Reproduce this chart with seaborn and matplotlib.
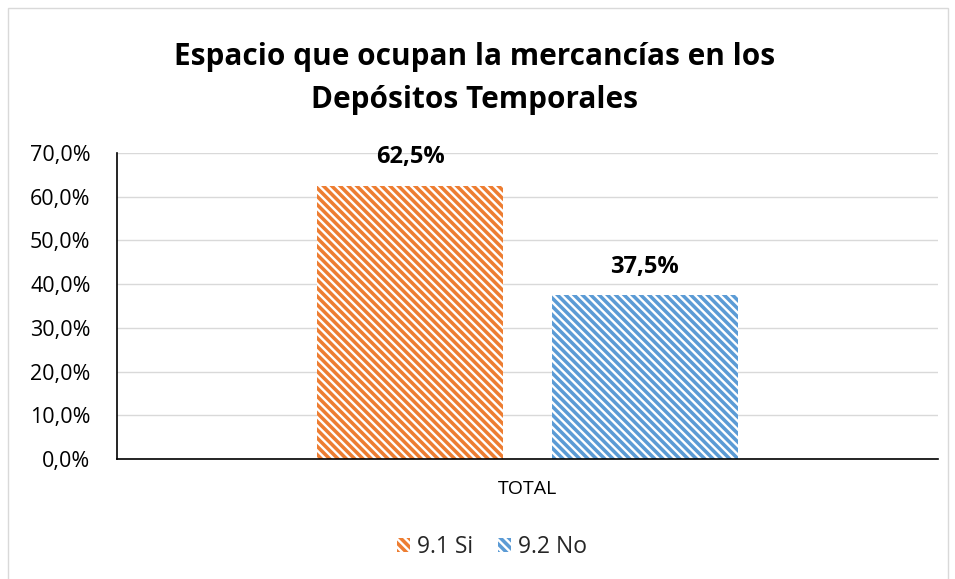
import matplotlib
matplotlib.use("Agg")
import matplotlib.pyplot as plt
import seaborn as sns
import pandas as pd
from matplotlib.patches import Patch, Rectangle
from matplotlib.ticker import FuncFormatter

categories = ["TOTAL"]
series = ["9.1 Si", "9.2 No"]
values = [0.625, 0.375]
colors = ["#ED7D31", "#5B9BD5"]
title_lines = ["Espacio que ocupan la mercancías en los", "Depósitos Temporales"]

sns.set_theme(style="white")
plt.rcParams["font.family"] = ["Open Sans", "DejaVu Sans"]
plt.rcParams["hatch.linewidth"] = 1.7
HATCH = "\\\\\\\\"

df = pd.DataFrame({"cat": categories * len(series), "serie": series, "val": values})

fig = plt.figure(figsize=(9.55, 5.79), dpi=100)
ax = fig.add_axes([117/955, 1-459/579, (938-117)/955, (459-153)/579])

sns.barplot(data=df, x="cat", y="val", hue="serie", palette=colors, ax=ax,
            width=0.572, gap=0.208, legend=False, saturation=1)

for bar, c in zip(ax.patches, colors):
    bar.set_facecolor(c)
    bar.set_edgecolor("white")
    bar.set_linewidth(0)
    bar.set_hatch(HATCH)

ax.set_ylim(0, 0.7)
ax.set_xlim(-0.5, 0.5)
ax.set_yticks([i / 10 for i in range(8)])
ax.yaxis.set_major_formatter(FuncFormatter(lambda v, p: f"{v*100:.1f}%".replace(".", ",")))
ax.tick_params(axis="y", labelsize=15.5, labelcolor="#000000", length=0, pad=19)
ax.tick_params(axis="x", labelsize=14, labelcolor="#000000", length=0, pad=15)
ax.set_xlabel("")
ax.set_ylabel("")
ax.grid(axis="y", color="#D9D9D9", linewidth=1)
ax.set_axisbelow(True)
for s in ["top", "right"]:
    ax.spines[s].set_visible(False)
for s in ["left", "bottom"]:
    ax.spines[s].set_color("black")
    ax.spines[s].set_linewidth(1.2)

for bar, v in zip(ax.patches, values):
    ax.annotate(f"{v*100:.1f}%".replace(".", ","),
                (bar.get_x() + bar.get_width()/2, v),
                xytext=(0, 20.5), textcoords="offset points",
                ha="center", va="center", fontsize=17, fontweight="bold",
                color="black")

fig.text(0.497, 1-57/579, title_lines[0], ha="center", va="center", fontsize=21.4,
         fontweight="bold", color="black")
fig.text(0.497, 1-100/579, title_lines[1], ha="center", va="center", fontsize=21.4,
         fontweight="bold", color="black")

handles = [Patch(facecolor=c, edgecolor="white", hatch=HATCH, linewidth=0) for c in colors]
fig.legend(handles, series, loc="center", bbox_to_anchor=(492/955, 1-547/579), ncol=2,
           frameon=False, fontsize=16.5, handlelength=0.55, handleheight=0.55,
           handletextpad=0.3, columnspacing=1.1)

fig.patches.append(Rectangle((8/955, -0.05), (948-8)/955, 1.05-8/579,
                             transform=fig.transFigure, fill=False,
                             edgecolor="#D9D9D9", linewidth=1))

fig.savefig("out.png", dpi=100)
